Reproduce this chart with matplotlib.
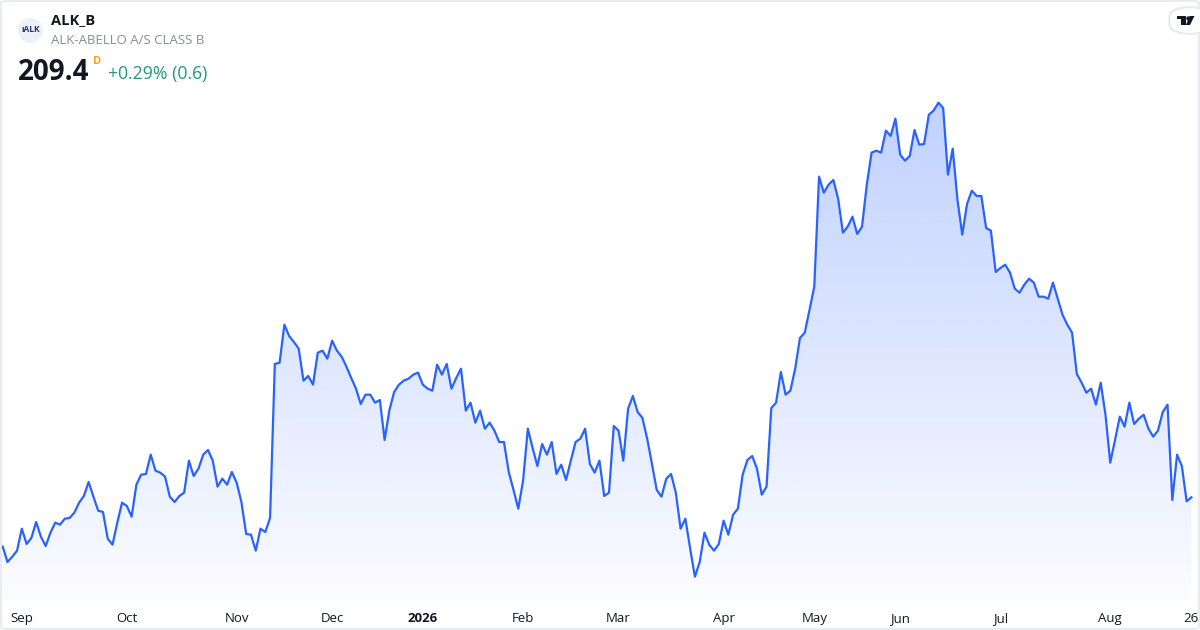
import numpy as np
import pandas as pd
import matplotlib
matplotlib.use("Agg")
import matplotlib.pyplot as plt
from matplotlib.colors import to_rgb
from matplotlib.patches import FancyBboxPatch, Polygon
from matplotlib.lines import Line2D

plt.rcParams['font.family'] = ['Open Sans', 'DejaVu Sans']

symbol = 'ALK_B'
company = 'ALK-ABELLO A/S CLASS B'
last_price = '209.4'
resolution = 'D'
change_text = '+0.29% (0.6)'

# Copenhagen exchange closing days in the period
holidays = ['2025-12-24', '2025-12-25', '2025-12-26', '2025-12-31', '2026-01-01',
            '2026-04-02', '2026-04-03', '2026-04-06', '2026-05-14', '2026-05-15',
            '2026-05-25', '2026-06-05']

# daily closes
prices_sep_nov = [202.0, 199.7, 200.5, 201.4, 204.7, 202.4, 203.3, 205.7, 203.5, 202.1,
                  204.1, 205.6, 205.3, 206.2, 206.3, 207.1, 208.6, 209.6, 211.7, 209.5,
                  207.4, 207.2, 203.2, 202.3, 205.6, 208.6, 208.1, 206.5, 211.3, 212.8,
                  212.9, 215.8, 213.4, 213.1, 212.5, 209.5, 208.7, 209.6, 210.1, 214.9,
                  212.6, 213.7, 215.8, 216.5, 214.9, 211.0, 212.2, 211.3, 213.2, 211.6,
                  208.7, 203.9, 203.8, 201.4, 204.7, 204.2, 206.3]
prices_nov_jan = [229.4, 229.6, 235.3, 233.6, 232.7, 231.7, 226.9, 227.6, 226.3, 231.1,
                  231.4, 230.2, 232.9, 231.4, 230.5, 229.0, 227.3, 225.7, 223.4, 224.8,
                  224.8, 223.6, 224.0, 218.0, 222.5, 225.2, 226.3, 226.9, 227.2, 227.8,
                  228.1, 226.3, 225.7, 225.4, 229.3, 227.8, 229.4, 225.7, 227.3, 228.7,
                  222.4, 223.6, 220.6, 222.4]
prices_jan_apr = [219.7, 220.6, 219.4, 217.7, 217.7, 213.2, 210.5, 207.7, 211.9, 219.7,
                  216.8, 214.1, 217.4, 215.8, 217.7, 212.9, 214.3, 212.0, 214.9, 217.7,
                  218.2, 219.7, 214.4, 213.1, 214.9, 209.6, 210.1, 220.1, 219.4, 214.9,
                  222.7, 224.6, 222.2, 221.3, 218.2, 214.4, 210.5, 209.5, 212.2, 212.9,
                  210.1, 204.7, 206.2, 201.7, 197.5, 199.7, 204.1, 202.3, 201.4, 202.4,
                  205.9, 203.8, 206.8, 207.7, 212.8, 215.0, 215.6, 213.7]
prices_apr_jun = [209.8, 211.0, 222.8, 223.6, 228.2, 224.8, 225.4, 228.7, 233.3, 234.1,
                  237.5, 241.0, 257.5, 255.1, 256.3, 257.0, 254.2, 249.1, 250.0, 251.5,
                  248.9, 250.0, 256.3, 261.1, 261.4, 261.1, 264.4, 263.6, 266.2, 260.8,
                  259.9, 260.6, 264.5, 262.3, 262.4, 266.8, 267.4, 268.6, 267.8, 257.8,
                  261.7, 254.0, 248.8, 253.4, 255.4, 254.6, 254.6]
prices_jun_aug = [249.8, 249.4, 243.2, 243.8, 244.3, 243.1, 240.7, 240.1, 241.3, 242.2,
                  241.6, 239.5, 239.5, 239.2, 241.6, 239.2, 236.8, 235.3, 234.1, 227.9,
                  226.6, 225.1, 225.7, 223.3, 226.6, 221.8, 214.6, 218.0, 221.5, 220.0,
                  223.6, 220.4, 221.2, 221.8, 219.7, 218.5, 219.4, 222.2, 223.3, 209.0,
                  215.8, 214.1, 208.8, 209.4]

prices = prices_sep_nov + prices_nov_jan + prices_jan_apr + prices_apr_jun + prices_jun_aug
dates = pd.bdate_range('2025-08-26', '2026-08-26', freq='C', holidays=holidays)
n = min(len(dates), len(prices))
dates = dates[:n]
prices = np.array(prices[:n])
x = np.arange(n)

W, H = 1200, 630
fig = plt.figure(figsize=(W / 100, H / 100), dpi=100)
fig.patch.set_facecolor('white')

def fx(px):
    return px / W

def fy(py):
    return 1 - py / H

ax = fig.add_axes([0, fy(600), 1, 600 / H])
ax.patch.set_alpha(0)

ymin, ymax = 194, 284
line_col = '#2962ff'

# gradient area under the line
grad = np.linspace(0, 1, 256)
rgba = np.zeros((256, 1, 4))
rgba[..., :3] = to_rgb(line_col)
rgba[..., 3] = (0.02 + 0.27 * grad)[:, None]
im = ax.imshow(rgba, extent=[x[0], x[-1], ymin, prices.max()], origin='lower',
               aspect='auto', zorder=1, interpolation='bilinear')
area = ax.fill_between(x, prices, ymin, color='none', lw=0)
im.set_clip_path(area.get_paths()[0], transform=ax.transData)

ax.plot(x, prices, color=line_col, lw=1.6, zorder=3, solid_joinstyle='round')

ax.set_xlim(-0.57, n - 1 + 1.8)
ax.set_ylim(ymin, ymax)

# month ticks at the first trading day of each month
ticks, labels, bold = [], [], []
for i in range(1, n):
    if dates[i].month != dates[i - 1].month:
        ticks.append(i)
        if dates[i].month == 1:
            labels.append(str(dates[i].year))
            bold.append(True)
        else:
            labels.append(dates[i].strftime('%b'))
            bold.append(False)
ticks.append(n - 1)
labels.append(str(dates[-1].day))
bold.append(False)

ax.set_xticks(ticks, labels)
ax.tick_params(axis='x', length=0, pad=8.5, labelsize=9.5, labelcolor='#131722')
for lab, b in zip(ax.get_xticklabels(), bold):
    if b:
        lab.set_fontweight('bold')
ax.set_yticks([])
for s in ax.spines.values():
    s.set_visible(False)

# header
fig.add_artist(Line2D([fx(30)], [fy(30)], marker='o', markersize=18, color='#eef0f8',
                      markeredgewidth=0, transform=fig.transFigure))
fig.text(fx(30.5), fy(30), 'ıALK', fontsize=6, fontweight='bold', color='#24336b',
         ha='center', va='center')
fig.text(fx(51), fy(20), symbol, fontsize=10.5, fontweight='bold', color='#131722',
         ha='left', va='center')
fig.text(fx(51), fy(40), company, fontsize=9.5, color='#8a8d96', ha='left', va='center')
fig.text(fx(18), fy(72), last_price, fontsize=20, fontweight='bold', color='#131722',
         ha='left', va='center')
fig.text(fx(93), fy(61), resolution, fontsize=8, fontweight='bold', color='#f7a21b',
         ha='left', va='center')
fig.text(fx(108), fy(74), change_text, fontsize=12.7, color='#1f9a7c', ha='left', va='center')

# frame
fig.add_artist(FancyBboxPatch((fx(1), fy(629)), fx(1198), 628 / H,
                              boxstyle='round,pad=0,rounding_size=0.004',
                              fc='none', ec='#e0e3eb', lw=1, transform=fig.transFigure))

# logo badge top right (pill with soft shadow)
for off, col in [(2.0, '#f0f1f4'), (1.0, '#e6e8ed')]:
    fig.add_artist(FancyBboxPatch((fx(1170 - off), fy(33 + off)), fx(40 + 2 * off),
                                  (25 + 2 * off) / H,
                                  boxstyle='round,pad=0,rounding_size=0.018',
                                  fc=col, ec='none', transform=fig.transFigure))
fig.add_artist(FancyBboxPatch((fx(1170), fy(33)), fx(40), 25 / H,
                              boxstyle='round,pad=0,rounding_size=0.018',
                              fc='white', ec='none', transform=fig.transFigure))
glyph = [
    [(1177, 16), (1185.5, 16), (1185.5, 19), (1177, 19)],
    [(1181, 16), (1185.5, 16), (1185.5, 25), (1181, 25)],
    [(1190, 16), (1194.5, 16), (1190, 25), (1185.8, 25)],
]
for g in glyph:
    fig.add_artist(Polygon([(fx(a), fy(b)) for a, b in g], closed=True, fc='#131722',
                           ec='none', transform=fig.transFigure))
fig.add_artist(Line2D([fx(1188)], [fy(17.5)], marker='o', markersize=3.2, color='#131722',
                      markeredgewidth=0, transform=fig.transFigure))

fig.savefig('out.png', dpi=100, facecolor='white')
